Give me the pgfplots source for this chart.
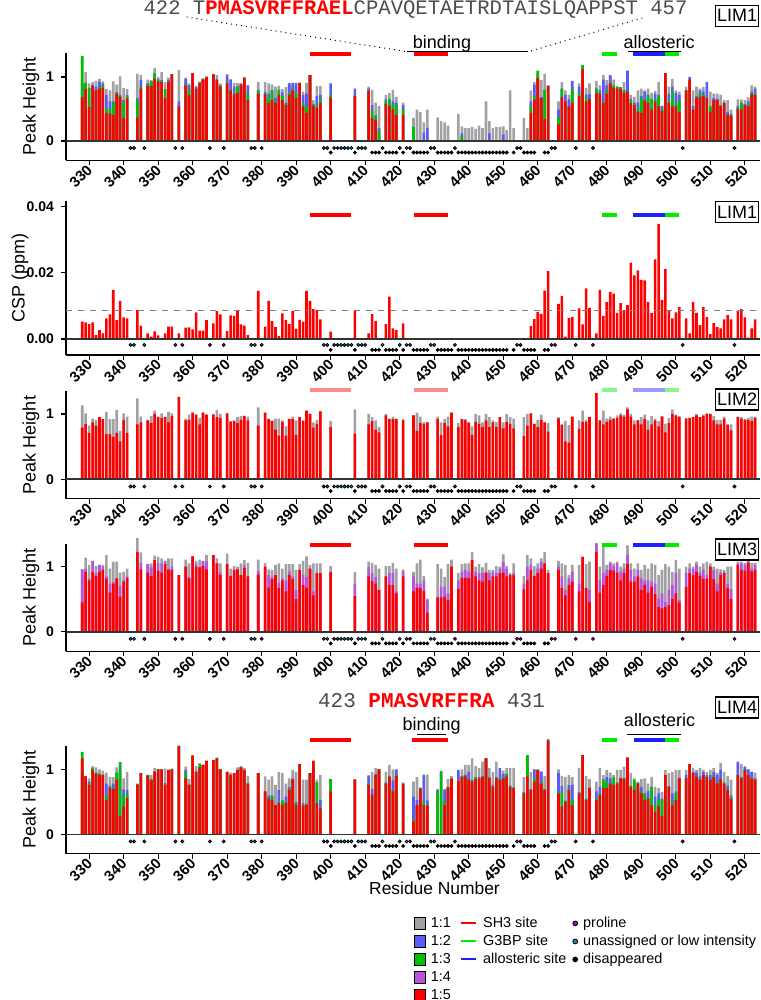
\documentclass[border=0pt]{standalone}
\usepackage{fontspec}
\setmainfont{Liberation Sans}
\setmonofont{Liberation Mono}
\usepackage{pgfplots}
\usepackage{pgfplotstable}
\pgfplotsset{compat=1.18}
\definecolor{cGray}{RGB}{160,160,165}
\definecolor{cBlue}{RGB}{90,90,250}
\definecolor{cGreen}{RGB}{0,190,0}
\definecolor{cPurple}{RGB}{180,85,220}
\definecolor{cRed}{RGB}{255,0,0}
\definecolor{cLGreen}{RGB}{0,235,0}
\definecolor{cLBlue}{RGB}{30,30,255}
\definecolor{cPro}{RGB}{140,20,190}
\definecolor{cTeal}{RGB}{0,150,175}

% LIM1: a=1:1 b=1:2 c=1:3 e=1:5
\pgfplotstableread{
r a b c e
328 0.90 0.90 1.33 0.68
329 1.08 0.91 0.91 0.81
330 0.90 0.83 0.83 0.53
331 0.92 0.88 0.86 0.86
332 0.94 0.85 0.80 0.79
333 0.97 0.92 0.85 0.82
334 0.93 0.90 0.86 0.83
335 0.81 0.72 0.50 0.44
336 0.79 0.62 0.50 0.43
337 0.93 0.62 0.60 0.41
338 0.88 0.76 0.76 0.74
339 1.01 0.72 0.70 0.69
340 0.83 0.64 0.62 0.36
341 0.81 0.72 0.70 0.67
344 1.05 0.67 0.64 0.37
345 1.03 0.95 0.85 0.82
347 0.96 0.90 0.88 0.86
348 0.95 0.93 0.93 0.86
349 1.14 1.06 1.06 0.97
350 1.00 0.97 0.95 0.93
351 1.08 0.95 0.94 0.92
352 0.92 0.81 0.81 0.67
353 0.99 0.95 0.93 0.92
354 1.04 1.04 1.04 1.04
356 1.11 0.62 0.55 0.54
358 0.99 0.97 0.90 0.87
359 0.90 0.87 0.80 0.72
360 1.06 1.06 1.06 1.06
361 0.86 0.84 0.82 0.82
362 0.93 0.91 0.91 0.91
363 0.98 0.97 0.97 0.96
364 1.00 1.00 1.00 1.00
366 1.05 1.04 1.04 1.04
367 1.03 0.97 0.96 0.95
368 0.90 0.87 0.86 0.85
370 1.00 1.04 0.92 0.90
371 0.97 0.95 0.80 0.79
372 0.91 0.85 0.75 0.73
373 0.91 0.85 0.85 0.75
374 0.91 0.89 0.88 0.88
375 0.99 0.99 0.99 0.99
376 0.87 0.87 0.74 0.64
379 0.92 0.80 0.78 0.74
381 0.92 0.77 0.75 0.73
382 0.90 0.74 0.67 0.59
383 0.88 0.79 0.79 0.64
384 0.85 0.67 0.62 0.59
385 0.86 0.80 0.80 0.72
386 0.81 0.76 0.70 0.64
387 0.84 0.60 0.58 0.56
388 0.91 0.90 0.75 0.72
389 0.87 0.91 0.82 0.79
390 0.85 0.91 0.74 0.67
391 0.91 0.91 0.91 0.91
392 0.77 0.72 0.60 0.54
393 0.91 0.74 0.54 0.44
394 1.03 1.03 1.03 1.03
395 0.64 0.58 0.56 0.55
396 0.86 0.70 0.56 0.52
397 0.86 0.72 0.65 0.59
400 0.70 0.90 0.72 0.68
407 0.70 0.82 0.71 0.70
411 0.85 0.82 0.79 0.78
412 0.80 0.56 0.48 0.36
413 0.60 0.40 0.40 0.33
414 0.55 0.20 0.16 0.00
416 0.72 0.65 0.62 0.58
417 0.75 0.64 0.66 0.55
418 0.80 0.62 0.56 0.50
419 0.69 0.60 0.58 0.41
421 0.60 0.56 0.50 0.41
424 0.36 0.00 0.22 0.00
425 0.49 0.00 0.00 0.00
426 0.45 0.00 0.00 0.00
427 0.29 0.13 0.00 0.00
428 0.49 0.20 0.00 0.00
431 0.37 0.00 0.00 0.00
432 0.31 0.00 0.00 0.00
433 0.29 0.00 0.00 0.00
434 0.24 0.00 0.00 0.00
437 0.42 0.00 0.00 0.00
438 0.23 0.12 0.08 0.00
439 0.20 0.00 0.00 0.00
440 0.20 0.00 0.00 0.00
441 0.22 0.00 0.00 0.00
442 0.19 0.00 0.00 0.00
443 0.24 0.00 0.00 0.00
444 0.20 0.00 0.00 0.00
445 0.62 0.00 0.00 0.00
446 0.31 0.12 0.00 0.00
447 0.20 0.00 0.00 0.00
448 0.22 0.00 0.00 0.00
449 0.22 0.00 0.00 0.00
450 0.23 0.10 0.00 0.00
451 0.17 0.00 0.00 0.00
452 0.79 0.00 0.00 0.00
453 0.20 0.00 0.00 0.00
456 0.36 0.00 0.00 0.00
457 0.20 0.00 0.00 0.00
458 0.79 0.62 0.55 0.44
459 0.92 0.88 0.70 0.65
460 1.05 1.00 1.10 0.98
461 0.95 0.69 0.67 0.67
462 1.05 0.80 0.80 0.34
463 0.87 0.86 0.86 0.86
466 0.62 0.49 0.37 0.26
467 0.92 0.82 0.82 0.69
468 0.79 0.72 0.62 0.62
469 0.72 0.65 0.54 0.54
470 0.85 0.94 0.80 0.59
472 0.90 0.85 0.75 0.70
473 1.18 1.18 1.18 1.12
474 0.83 0.73 0.69 0.62
475 0.90 0.73 0.65 0.65
477 0.94 0.82 0.82 0.75
478 0.87 0.80 0.76 0.74
479 1.03 0.96 0.62 0.59
480 0.95 0.87 0.79 0.74
481 0.98 1.03 0.92 0.90
482 0.96 0.87 0.87 0.83
483 0.85 0.85 0.85 0.82
484 0.84 0.84 0.84 0.82
485 0.92 0.80 0.78 0.75
486 1.05 1.10 0.78 0.77
487 0.72 0.66 0.64 0.59
488 0.69 0.60 0.58 0.56
489 0.79 0.60 0.50 0.46
490 0.82 0.70 0.67 0.44
491 0.79 0.77 0.65 0.63
492 0.82 0.72 0.72 0.59
493 0.75 0.66 0.66 0.49
494 0.78 0.74 0.65 0.62
495 0.92 0.72 0.70 0.54
496 0.55 0.55 0.50 0.47
497 1.06 1.06 1.06 1.06
498 0.85 0.74 0.62 0.59
499 0.97 0.85 0.77 0.54
500 0.79 0.75 0.59 0.54
501 0.77 0.72 0.64 0.45
503 0.85 0.79 0.79 0.79
504 0.96 1.00 0.96 0.96
505 0.79 0.55 0.50 0.49
506 0.85 0.70 0.68 0.67
507 0.82 0.79 0.74 0.69
508 0.84 0.77 0.72 0.70
509 0.85 0.92 0.68 0.67
510 0.77 0.54 0.54 0.46
511 0.74 0.67 0.64 0.64
512 0.74 0.66 0.64 0.64
513 0.72 0.56 0.55 0.54
514 0.64 0.60 0.60 0.59
515 0.64 0.45 0.42 0.41
516 0.49 0.42 0.40 0.39
518 0.65 0.55 0.52 0.50
519 0.65 0.60 0.59 0.49
520 0.64 0.58 0.57 0.56
521 0.68 0.62 0.56 0.54
522 0.87 0.77 0.74 0.73
523 0.85 0.82 0.74 0.72
}\limA

% CSP of LIM1 (ppm)
\pgfplotstableread{
r v
328 0.0052
329 0.0050
330 0.0045
331 0.0050
332 0.0012
333 0.0027
334 0.0017
335 0.0062
336 0.0074
337 0.0148
338 0.0057
339 0.0115
340 0.0065
341 0.0062
344 0.0087
345 0.0040
347 0.0017
348 0.0007
349 0.0023
350 0.0011
351 0.0003
352 0.0017
353 0.0037
354 0.0037
356 0.0017
358 0.0034
359 0.0035
360 0.0029
361 0.0080
362 0.0025
363 0.0025
364 0.0057
366 0.0047
367 0.0084
368 0.0074
370 0.0024
371 0.0071
372 0.0070
373 0.0087
374 0.0044
375 0.0040
376 0.0012
379 0.0145
381 0.0037
382 0.0115
383 0.0054
384 0.0036
385 0.0009
386 0.0077
387 0.0057
388 0.0045
389 0.0084
390 0.0031
391 0.0058
392 0.0052
393 0.0145
394 0.0115
395 0.0090
396 0.0087
397 0.0059
400 0.0022
407 0.0084
411 0.0017
412 0.0075
413 0.0054
416 0.0045
417 0.0128
418 0.0032
419 0.0027
421 0.0047
458 0.0039
459 0.0060
460 0.0082
461 0.0076
462 0.0146
463 0.0205
466 0.0106
467 0.0130
468 0.0007
469 0.0064
470 0.0067
472 0.0092
473 0.0044
474 0.0153
475 0.0094
477 0.0017
478 0.0148
479 0.0070
480 0.0112
481 0.0142
482 0.0137
483 0.0079
484 0.0108
485 0.0087
486 0.0102
487 0.0230
488 0.0192
489 0.0207
490 0.0178
491 0.0177
492 0.0112
493 0.0079
494 0.0240
495 0.0347
496 0.0118
497 0.0211
498 0.0087
499 0.0062
500 0.0080
501 0.0096
503 0.0062
504 0.0017
505 0.0112
506 0.0079
507 0.0042
508 0.0096
509 0.0066
510 0.0015
511 0.0048
512 0.0036
513 0.0032
514 0.0059
515 0.0073
516 0.0059
518 0.0084
519 0.0090
520 0.0065
521 0.0004
522 0.0032
523 0.0059
}\csp

% LIM2: a=1:1 e=1:5
\pgfplotstableread{
r a e
328 1.13 0.79
329 1.01 0.85
330 0.82 0.71
331 0.93 0.87
332 0.91 0.82
333 0.95 0.95
334 0.92 0.92
335 1.03 0.69
336 0.92 0.69
337 0.92 0.65
338 1.06 0.71
339 0.74 0.58
340 1.01 0.91
341 0.96 0.71
344 1.24 0.84
345 0.96 0.87
347 0.91 0.90
348 0.97 0.86
349 1.05 1.00
350 0.96 0.95
351 1.01 0.94
352 0.96 0.95
353 1.03 0.87
354 1.01 0.97
356 1.26 1.26
358 0.93 0.90
359 0.99 0.91
360 1.02 1.02
361 0.99 0.99
362 0.94 0.84
363 1.02 1.02
364 0.99 0.99
366 1.00 0.99
367 1.06 0.95
368 1.00 0.94
370 1.01 1.01
371 0.89 0.88
372 0.90 0.89
373 0.95 0.86
374 0.97 0.91
375 0.97 0.97
376 0.96 0.90
379 1.10 0.82
381 1.02 1.02
382 0.93 0.92
383 0.90 0.89
384 0.93 0.76
385 0.93 0.67
386 0.90 0.88
387 0.81 0.67
388 0.93 0.92
389 0.96 0.92
390 0.90 0.68
391 0.95 0.95
392 0.90 0.89
393 1.05 1.05
394 1.00 1.00
395 0.87 0.79
396 0.91 0.85
397 1.04 1.04
400 0.89 0.80
407 1.07 0.70
411 1.00 0.84
412 0.95 0.89
413 0.90 0.76
414 0.80 0.72
416 1.00 0.98
417 0.93 0.92
418 0.96 0.92
419 0.93 0.92
421 0.92 0.90
424 0.98 0.98
425 1.02 0.74
426 0.96 0.86
427 0.88 0.85
428 0.87 0.87
431 0.96 0.92
432 0.87 0.68
433 0.92 0.86
434 0.96 0.81
435 1.02 1.02
437 0.86 0.80
438 0.92 0.92
439 0.92 0.90
440 0.88 0.86
441 0.81 0.68
442 1.00 0.88
443 0.98 0.85
444 0.87 0.80
445 1.00 0.90
446 0.95 0.80
447 0.90 0.87
448 0.88 0.80
449 0.95 0.95
450 0.87 0.78
451 1.00 0.88
452 0.95 0.85
453 0.93 0.78
456 0.95 0.66
457 1.00 0.82
458 1.01 1.01
459 0.85 0.85
460 0.91 0.80
461 0.99 0.91
462 0.87 0.87
463 0.86 0.73
466 0.95 0.93
467 0.85 0.83
468 0.89 0.58
469 0.83 0.56
470 0.96 0.96
472 0.90 0.77
473 1.05 0.88
474 0.91 0.88
475 0.95 0.95
477 1.32 1.32
478 0.90 0.90
479 1.05 0.84
480 0.93 0.88
481 0.96 0.91
482 0.94 0.92
483 0.98 0.94
484 1.01 0.98
485 0.99 0.96
486 1.10 1.07
487 1.00 0.96
488 0.90 0.84
489 0.91 0.90
490 0.95 0.84
491 0.99 0.92
492 0.90 0.76
493 0.97 0.84
494 0.93 0.90
495 0.89 0.81
496 0.97 0.96
497 0.85 0.72
498 0.94 0.86
499 1.07 1.00
500 0.99 0.98
501 0.97 0.95
503 0.94 0.93
504 0.94 0.94
505 0.95 0.95
506 1.00 0.98
507 0.95 0.95
508 0.99 0.97
509 1.01 1.00
510 1.00 1.00
511 0.97 0.90
512 0.91 0.84
513 0.91 0.84
514 0.96 0.93
515 0.85 0.83
516 0.84 0.75
518 0.96 0.95
519 0.95 0.93
520 0.92 0.91
521 0.94 0.91
522 0.96 0.89
523 0.96 0.94
}\limB

% LIM3: a=1:1 d=1:4 e=1:5
\pgfplotstableread{
r a d e
328 0.96 0.96 0.45
329 1.14 0.97 0.92
330 1.03 0.82 0.79
331 1.09 1.09 0.92
332 1.01 0.90 0.86
333 1.03 1.03 0.92
334 1.03 1.00 0.95
335 1.18 0.85 0.82
336 0.97 0.74 0.60
337 1.08 0.76 0.74
338 1.08 0.82 0.82
339 0.91 0.70 0.54
340 0.92 0.79 0.77
341 0.97 0.85 0.83
344 1.44 1.23 1.23
345 1.22 1.06 0.96
347 1.04 1.04 0.91
348 1.05 0.99 0.86
349 1.17 1.10 1.10
350 1.15 1.05 0.94
351 1.13 1.05 0.91
352 1.09 1.09 1.04
353 1.13 0.97 0.95
354 1.13 1.00 0.95
356 0.87 0.87 0.87
358 1.11 1.00 1.00
359 1.05 0.84 0.82
360 1.16 1.16 1.16
361 1.09 1.05 1.00
362 1.11 1.00 0.99
363 1.09 1.09 1.01
364 1.18 1.08 0.96
366 1.18 1.18 1.18
367 1.13 1.05 1.05
368 1.05 0.91 0.87
370 1.20 1.04 1.04
371 0.97 0.86 0.86
372 1.01 0.95 0.95
373 1.00 0.96 0.96
374 1.05 0.87 0.87
375 1.10 1.02 0.98
376 1.06 0.85 0.85
379 1.11 0.93 0.88
381 1.06 1.00 1.00
382 0.96 0.87 0.68
383 0.95 0.84 0.81
384 1.03 0.87 0.87
385 1.05 0.75 0.67
386 0.97 0.82 0.79
387 1.04 0.79 0.62
388 1.04 0.93 0.87
389 1.04 0.85 0.81
390 0.95 0.64 0.50
391 1.04 0.95 0.95
392 1.09 0.88 0.72
393 1.16 0.84 0.68
394 1.03 0.97 0.97
395 1.05 0.62 0.56
396 1.05 0.90 0.90
397 1.05 0.90 0.90
400 1.01 0.92 0.92
407 0.92 0.74 0.55
411 1.08 0.99 0.85
412 1.06 0.90 0.78
413 1.03 0.84 0.74
414 0.97 0.64 0.64
416 1.01 0.85 0.85
417 1.01 0.90 0.72
418 1.06 0.90 0.72
419 0.97 0.62 0.59
421 0.96 0.93 0.85
424 0.92 0.85 0.62
425 1.05 0.74 0.68
426 1.11 0.74 0.67
427 0.86 0.79 0.63
428 0.51 0.49 0.29
431 1.04 0.53 0.53
432 0.97 0.69 0.53
433 0.84 0.69 0.54
434 1.04 0.59 0.49
435 1.11 1.00 1.00
437 0.90 0.79 0.66
438 1.04 0.92 0.83
439 1.05 0.95 0.83
440 1.05 0.92 0.83
441 1.23 1.10 1.10
442 1.00 0.92 0.85
443 1.04 0.90 0.79
444 0.99 0.90 0.77
445 1.06 0.92 0.91
446 0.95 0.90 0.79
447 0.95 0.92 0.85
448 1.01 0.90 0.85
449 1.00 0.97 0.90
450 1.19 1.08 0.91
451 1.01 0.97 0.85
452 0.90 0.88 0.87
453 1.05 0.90 0.87
456 0.86 0.74 0.65
457 1.18 1.00 0.79
458 1.13 1.03 0.95
459 1.01 0.86 0.86
460 1.05 0.97 0.90
461 1.13 1.08 0.97
462 1.23 1.05 1.05
463 0.95 0.90 0.90
466 1.09 1.00 0.95
467 1.05 0.85 0.67
468 1.03 0.64 0.56
469 0.87 0.82 0.72
470 1.03 0.92 0.77
472 1.03 0.74 0.62
473 1.15 1.15 1.15
474 1.04 0.67 0.67
475 1.08 0.64 0.46
477 1.36 1.36 1.23
478 1.00 0.79 0.60
479 1.35 0.90 0.72
480 1.03 0.95 0.86
481 1.08 1.05 0.95
482 1.05 1.01 0.94
483 1.08 1.05 0.91
484 1.00 0.92 0.79
485 1.05 0.97 0.90
486 1.33 1.18 1.04
487 1.05 0.95 0.77
488 0.97 0.85 0.77
489 1.05 0.95 0.85
490 0.95 0.82 0.64
491 1.03 0.79 0.72
492 0.97 0.79 0.60
493 1.05 0.77 0.69
494 1.03 0.74 0.58
495 0.87 0.51 0.38
496 0.95 0.59 0.36
497 1.04 0.46 0.38
498 1.00 0.64 0.41
499 0.92 0.72 0.50
500 1.10 0.90 0.59
501 0.97 0.49 0.45
503 1.00 0.90 0.69
504 1.05 0.97 0.90
505 1.00 0.97 0.87
506 1.08 1.03 0.92
507 1.00 0.91 0.86
508 1.05 0.95 0.81
509 1.08 0.87 0.82
510 1.05 1.00 1.00
511 1.00 0.95 0.81
512 0.97 0.74 0.62
513 0.96 0.91 0.87
514 0.95 0.92 0.90
515 1.00 0.74 0.67
516 1.00 0.65 0.50
518 1.08 1.05 1.03
519 1.08 1.05 0.95
520 1.06 1.03 0.94
521 1.11 1.11 1.06
522 1.06 0.97 0.93
523 1.06 1.03 0.95
}\limC

% LIM4: a=1:1 b=1:2 c=1:3 e=1:5
\pgfplotstableread{
r a b c e
328 1.00 1.00 1.27 1.17
329 0.89 0.89 0.89 0.89
330 0.86 0.81 0.78 0.76
331 1.05 1.02 1.02 0.99
332 1.03 0.95 0.95 0.93
333 1.00 0.93 0.93 0.92
334 0.98 0.92 0.92 0.91
335 0.95 0.78 0.60 0.53
336 0.88 0.75 0.73 0.71
337 0.88 0.78 0.72 0.70
338 1.03 0.95 0.95 0.84
339 1.00 1.11 1.11 0.28
340 0.86 0.69 0.60 0.43
341 0.96 0.68 0.63 0.56
344 0.77 0.77 0.78 0.76
345 0.94 0.94 0.94 0.94
347 0.92 0.91 0.91 0.90
348 0.91 0.85 0.84 0.83
349 1.02 0.97 0.97 0.96
350 1.00 1.00 1.00 1.00
351 1.00 1.00 1.00 1.00
352 1.01 0.79 0.77 0.76
353 0.99 0.99 0.99 0.99
354 1.00 1.01 1.00 1.00
356 1.36 1.36 1.36 1.36
358 1.04 0.99 0.94 0.86
359 0.85 0.77 0.76 0.76
360 1.21 1.21 1.21 1.21
361 1.05 0.97 0.96 0.96
362 1.03 1.03 1.09 1.03
363 1.07 1.07 1.07 1.07
364 1.13 1.13 1.13 1.13
366 1.14 1.14 1.14 1.14
367 1.17 1.17 1.18 1.17
368 1.00 1.00 1.00 1.00
370 0.96 0.96 0.96 0.96
371 0.95 0.92 0.91 0.91
372 0.94 0.94 0.94 0.94
373 1.03 0.99 0.99 0.99
374 1.05 1.03 1.03 1.03
375 1.02 0.99 0.99 0.99
376 0.90 0.79 0.79 0.77
379 0.94 0.94 0.94 0.94
381 0.89 0.66 0.66 0.66
382 0.84 0.60 0.56 0.55
383 0.89 0.60 0.58 0.53
384 0.76 0.45 0.45 0.45
385 0.96 0.68 0.50 0.48
386 0.94 0.52 0.52 0.45
387 0.78 0.58 0.50 0.48
388 0.86 0.73 0.70 0.68
389 0.99 0.86 0.84 0.84
390 0.96 0.50 0.48 0.45
391 1.08 1.08 1.08 1.08
392 0.84 0.48 0.45 0.44
393 0.84 0.47 0.46 0.45
394 0.94 0.94 0.94 0.94
395 1.13 1.13 1.13 1.13
396 0.84 0.80 0.80 0.48
397 0.91 0.53 0.42 0.40
400 0.85 0.85 0.85 0.66
407 0.85 0.84 0.84 0.84
411 0.91 0.89 0.78 0.76
412 0.96 0.70 0.62 0.61
413 1.02 0.93 0.92 0.91
414 1.00 1.00 1.00 1.00
416 0.96 0.80 0.79 0.78
417 1.07 0.90 0.89 0.88
418 1.00 0.83 0.68 0.66
419 0.99 1.00 0.91 0.90
421 0.80 0.78 0.78 0.77
424 0.81 0.58 0.22 0.20
425 0.88 0.53 0.45 0.45
426 0.72 0.72 0.71 0.70
427 0.90 0.92 0.50 0.45
428 0.92 0.52 0.45 0.44
431 0.70 0.68 0.66 0.00
432 0.98 0.97 0.96 0.00
433 0.70 0.68 0.50 0.45
434 0.85 0.73 0.73 0.72
435 0.90 0.86 0.86 0.85
437 0.95 0.99 0.83 0.82
438 1.00 0.90 0.89 0.88
439 1.07 0.92 0.90 0.89
440 1.07 0.96 0.85 0.84
441 1.17 0.84 0.82 0.81
442 1.05 0.88 0.88 0.85
443 1.02 0.88 0.87 0.86
444 1.12 0.90 0.89 0.88
445 1.17 1.17 1.17 1.17
446 1.02 0.88 0.87 0.86
447 0.96 0.76 0.74 0.73
448 1.12 0.88 0.87 0.86
449 0.98 1.02 0.85 0.84
450 0.98 0.93 0.87 0.86
451 1.02 0.93 0.93 0.89
452 1.02 0.75 0.74 0.73
453 1.02 0.72 0.72 0.71
456 0.88 0.65 0.64 0.63
457 1.20 1.22 1.22 0.89
458 0.96 0.70 0.69 0.68
459 1.00 1.00 0.85 0.81
460 1.00 0.99 0.99 0.99
461 0.97 0.96 0.80 0.78
462 0.90 0.70 0.69 0.68
463 1.46 1.46 1.44 1.44
466 1.00 0.94 0.65 0.63
467 0.90 0.74 0.64 0.43
468 0.88 0.52 0.51 0.50
469 0.91 0.76 0.70 0.68
470 0.88 0.76 0.53 0.45
472 1.02 0.65 0.64 0.63
473 1.22 1.22 1.22 1.22
474 0.90 0.55 0.54 0.53
475 0.85 0.72 0.72 0.71
477 0.81 0.66 0.55 0.53
478 1.02 0.73 0.63 0.61
479 0.91 0.80 0.85 0.71
480 0.99 0.88 0.81 0.71
481 0.95 0.86 0.79 0.78
482 0.91 0.80 0.88 0.76
483 0.99 0.80 0.79 0.78
484 0.99 0.87 0.86 0.86
485 1.04 0.87 0.86 0.85
486 1.18 1.18 1.18 1.18
487 0.94 0.75 0.74 0.73
488 0.86 0.73 0.84 0.68
489 0.81 0.79 0.79 0.78
490 0.85 0.73 0.66 0.63
491 0.86 0.63 0.63 0.53
492 0.78 0.67 0.56 0.55
493 0.88 0.73 0.73 0.45
494 0.73 0.58 0.45 0.35
495 0.71 0.63 0.55 0.43
496 0.65 0.55 0.53 0.28
497 0.99 0.91 0.91 0.91
498 0.94 0.74 0.73 0.73
499 0.96 0.63 0.50 0.45
500 0.99 0.66 0.63 0.53
501 0.99 0.87 0.86 0.86
503 0.99 0.91 0.87 0.86
504 1.08 1.08 1.08 1.08
505 1.02 0.96 0.94 0.94
506 0.99 0.95 0.89 0.88
507 1.02 0.89 0.85 0.84
508 0.99 0.96 0.92 0.91
509 0.96 0.91 0.89 0.88
510 0.99 0.91 0.85 0.84
511 1.02 0.96 0.90 0.88
512 0.94 0.91 0.79 0.78
513 1.10 0.99 0.87 0.85
514 0.96 0.80 0.79 0.78
515 0.90 0.75 0.70 0.68
516 0.84 0.60 0.56 0.55
518 1.10 1.12 0.92 0.91
519 1.08 0.88 0.87 0.86
520 1.04 1.04 1.00 0.99
521 1.00 1.00 0.92 0.91
522 0.96 0.96 0.87 0.86
523 0.95 0.86 0.85 0.84
}\limD

% residue markers below the axis: p = y in peak panels, c = y in CSP panel
\pgfplotstableread{
r p c
355 -0.11 -0.0018
357 -0.11 -0.0018
365 -0.11 -0.0018
369 -0.11 -0.0018
380 -0.11 -0.0018
398 -0.11 -0.0018
401 -0.11 -0.0018
402 -0.11 -0.0018
423 -0.11 -0.0018
436 -0.11 -0.0018
454 -0.11 -0.0018
455 -0.11 -0.0018
464 -0.11 -0.0018
465 -0.11 -0.0018
471 -0.11 -0.0018
476 -0.11 -0.0018
502 -0.11 -0.0018
517 -0.11 -0.0018
}\dotP
\pgfplotstableread{
r p c
342 -0.11 -0.0018
343 -0.11 -0.0018
346 -0.11 -0.0018
377 -0.11 -0.0018
378 -0.11 -0.0018
399 -0.11 -0.0018
403 -0.11 -0.0018
404 -0.11 -0.0018
405 -0.11 -0.0018
406 -0.11 -0.0018
408 -0.11 -0.0018
409 -0.11 -0.0018
410 -0.11 -0.0018
415 -0.11 -0.0018
420 -0.11 -0.0018
422 -0.11 -0.0018
429 -0.11 -0.0018
430 -0.11 -0.0018
}\dotT
\pgfplotstableread{
r p c
400 -0.18 -0.0033
407 -0.18 -0.0033
412 -0.18 -0.0033
413 -0.18 -0.0033
414 -0.18 -0.0033
416 -0.18 -0.0033
417 -0.18 -0.0033
418 -0.18 -0.0033
419 -0.18 -0.0033
421 -0.18 -0.0033
424 -0.18 -0.0033
425 -0.18 -0.0033
426 -0.18 -0.0033
427 -0.18 -0.0033
428 -0.18 -0.0033
431 -0.18 -0.0033
432 -0.18 -0.0033
433 -0.18 -0.0033
434 -0.18 -0.0033
435 -0.18 -0.0033
437 -0.18 -0.0033
438 -0.18 -0.0033
439 -0.18 -0.0033
440 -0.18 -0.0033
441 -0.18 -0.0033
442 -0.18 -0.0033
443 -0.18 -0.0033
444 -0.18 -0.0033
445 -0.18 -0.0033
446 -0.18 -0.0033
447 -0.18 -0.0033
448 -0.18 -0.0033
449 -0.18 -0.0033
450 -0.18 -0.0033
451 -0.18 -0.0033
453 -0.18 -0.0033
456 -0.18 -0.0033
457 -0.18 -0.0033
458 -0.18 -0.0033
459 -0.18 -0.0033
462 -0.18 -0.0033
463 -0.18 -0.0033
}\dotK

\pgfplotsset{
  panel/.style={
    scale only axis, width=347pt, anchor=south west,
    xmin=323.3, xmax=524.4,
    axis x line*=bottom, axis y line*=left,
    axis line style={line width=0.6pt},
    every tick/.style={black, line width=0.6pt},
    tick align=outside, major tick length=2.5pt,
    xtick={330,340,...,520},
    xticklabel style={rotate=45, anchor=east, inner sep=0.5pt, yshift=-1pt,
      font=\bfseries\fontsize{7.4}{8}\selectfont,
      /pgf/number format/assume math mode=true},
    yticklabel style={font=\bfseries\fontsize{7}{8}\selectfont,
      /pgf/number format/assume math mode=true},
    ylabel style={font=\fontsize{9}{10}\selectfont, at={(axis description cs:-0.0504,0.5)}, anchor=center},
    clip=false,
  },
  mybar/.style={ybar, bar width=0.75, bar shift=0pt, draw=none, fill=#1},
  zeroline/.style={black!80, line width=0.8pt},
  dotstyle/.style={only marks, mark=*, mark size=0.75pt, mark options={draw=none, fill=#1}},
  site/.style={line width=2pt, #1},
  sqleg/.style={legend image code/.code={\fill[##1] (0pt,-2.8pt) rectangle (5.6pt,2.8pt); \path (8pt,0pt);}},
  lnleg/.style={legend image code/.code={\draw[##1, line width=1pt] (0pt,0pt) -- (7.5pt,0pt); \path (11pt,0pt);}},
  dtleg/.style={legend image code/.code={\fill[##1] (1.2pt,0pt) circle (1.2pt); \path (5pt,0pt);}},
}
\tikzset{limbox/.style={draw, line width=0.6pt, font=\fontsize{9}{10}\selectfont, minimum width=21.5pt, minimum height=10.5pt, inner sep=0pt}}

\begin{document}
\begin{tikzpicture}
\useasboundingbox (0,0) rectangle (380pt,500pt);

% ---------------- Panel 1: LIM1 peak heights
\begin{axis}[panel, at={(33pt,419.9pt)}, height=53.75pt,
  ymin=-0.3, ymax=1.38, ytick={0,1}, ylabel={Peak Height}]
\addplot[mybar=cGray] table[x=r,y=a]{\limA};
\addplot[mybar=cBlue] table[x=r,y=b]{\limA};
\addplot[mybar=cGreen] table[x=r,y=c]{\limA};
\addplot[mybar=cRed] table[x=r,y=e]{\limA};
\addplot[zeroline] coordinates {(323.3,0) (524.4,0)};
\addplot[dotstyle=cPro] table[x=r,y=p]{\dotP};
\addplot[dotstyle=cTeal] table[x=r,y=p]{\dotT};
\addplot[dotstyle=black] table[x=r,y=p]{\dotK};
\addplot[site=cRed] coordinates {(394,1.36) (406,1.36)};
\addplot[site=cRed] coordinates {(424,1.36) (434,1.36)};
\addplot[site=cLGreen] coordinates {(478.5,1.36) (483,1.36)};
\addplot[site=cLBlue] coordinates {(487.7,1.36) (497,1.36)};
\addplot[site=cLGreen] coordinates {(497,1.36) (501,1.36)};
\end{axis}

% ---------------- Panel 2: CSP
\begin{axis}[panel, at={(33pt,322.5pt)}, height=77pt,
  ymin=-0.00483, ymax=0.04163, ytick={0,0.02,0.04}, scaled y ticks=false,
  yticklabel style={/pgf/number format/.cd, fixed, fixed zerofill, precision=2},
  ylabel={CSP (ppm)}, ylabel style={at={(axis description cs:-0.0663,0.5)}}]
\addplot[mybar=cRed] table[x=r,y=v]{\csp};
\addplot[gray, dashed, line width=0.6pt] coordinates {(323.3,0.0085) (524.4,0.0085)};
\addplot[zeroline] coordinates {(323.3,0) (524.4,0)};
\addplot[dotstyle=cPro] table[x=r,y=c]{\dotP};
\addplot[dotstyle=cTeal] table[x=r,y=c]{\dotT};
\addplot[dotstyle=black] table[x=r,y=c]{\dotK};
\addplot[site=cRed] coordinates {(394,0.0375) (406,0.0375)};
\addplot[site=cRed] coordinates {(424,0.0375) (434,0.0375)};
\addplot[site=cLGreen] coordinates {(478.5,0.0375) (483,0.0375)};
\addplot[site=cLBlue] coordinates {(487.7,0.0375) (497,0.0375)};
\addplot[site=cLGreen] coordinates {(497,0.0375) (501,0.0375)};
\end{axis}

% ---------------- Panel 3: LIM2
\begin{axis}[panel, at={(33pt,250.55pt)}, height=53.9pt,
  ymin=-0.3, ymax=1.35, ytick={0,1}, ylabel={Peak Height}]
\addplot[mybar=cGray] table[x=r,y=a]{\limB};
\addplot[mybar=cRed] table[x=r,y=e]{\limB};
\addplot[zeroline] coordinates {(323.3,0) (524.4,0)};
\addplot[dotstyle=cPro] table[x=r,y=p]{\dotP};
\addplot[dotstyle=cTeal] table[x=r,y=p]{\dotT};
\addplot[dotstyle=black] table[x=r,y=p]{\dotK};
\addplot[site=cRed, opacity=0.45] coordinates {(394,1.37) (406,1.37)};
\addplot[site=cRed, opacity=0.45] coordinates {(424,1.37) (434,1.37)};
\addplot[site=cLGreen, opacity=0.45] coordinates {(478.5,1.37) (483,1.37)};
\addplot[site=cLBlue, opacity=0.45] coordinates {(487.7,1.37) (497,1.37)};
\addplot[site=cLGreen, opacity=0.45] coordinates {(497,1.37) (501,1.37)};
\end{axis}

% ---------------- Panel 4: LIM3
\begin{axis}[panel, at={(33pt,174.4pt)}, height=53.6pt,
  ymin=-0.3, ymax=1.35, ytick={0,1}, ylabel={Peak Height}]
\addplot[mybar=cGray] table[x=r,y=a]{\limC};
\addplot[mybar=cPurple] table[x=r,y=d]{\limC};
\addplot[mybar=cRed] table[x=r,y=e]{\limC};
\addplot[zeroline] coordinates {(323.3,0) (524.4,0)};
\addplot[dotstyle=cPro] table[x=r,y=p]{\dotP};
\addplot[dotstyle=cTeal] table[x=r,y=p]{\dotT};
\addplot[dotstyle=black] table[x=r,y=p]{\dotK};
\addplot[site=cRed] coordinates {(394,1.34) (406,1.34)};
\addplot[site=cRed] coordinates {(424,1.34) (434,1.34)};
\addplot[site=cLGreen] coordinates {(478.5,1.34) (483,1.34)};
\addplot[site=cLBlue] coordinates {(487.7,1.34) (497,1.34)};
\addplot[site=cLGreen] coordinates {(497,1.34) (501,1.34)};
\end{axis}

% ---------------- Panel 5: LIM4
\begin{axis}[panel, at={(33pt,73.1pt)}, height=53.95pt,
  ymin=-0.3, ymax=1.36, ytick={0,1}, ylabel={Peak Height},
  xlabel={Residue Number},
  xlabel style={font=\fontsize{8.7}{10}\selectfont, at={(axis description cs:0.531,-0.38)}, anchor=base},
  legend columns=3, legend cell align=left,
  legend style={at={(0.5014,-0.574)}, anchor=north west, draw=none, fill=none,
    inner sep=0pt, outer sep=0pt, column sep=0pt, row sep=1.3pt,
    font=\fontsize{7.2}{8}\selectfont,
    nodes={inner xsep=0pt, inner ysep=0.6pt, text height=5.2pt, text depth=1.3pt},
    /tikz/column 2/.style={column sep=4.5pt},
    /tikz/column 4/.style={column sep=3pt}}]
\addplot[mybar=cGray, forget plot] table[x=r,y=a]{\limD};
\addplot[mybar=cBlue, forget plot] table[x=r,y=b]{\limD};
\addplot[mybar=cGreen, forget plot] table[x=r,y=c]{\limD};
\addplot[mybar=cRed, forget plot] table[x=r,y=e]{\limD};
\addplot[zeroline, forget plot] coordinates {(323.3,0) (524.4,0)};
\addplot[dotstyle=cPro, forget plot] table[x=r,y=p]{\dotP};
\addplot[dotstyle=cTeal, forget plot] table[x=r,y=p]{\dotT};
\addplot[dotstyle=black, forget plot] table[x=r,y=p]{\dotK};
\addplot[site=cRed, forget plot] coordinates {(394,1.446) (406,1.446)};
\addplot[site=cRed, forget plot] coordinates {(423.5,1.446) (434,1.446)};
\addplot[site=cLGreen, forget plot] coordinates {(478.5,1.446) (483,1.446)};
\addplot[site=cLBlue, forget plot] coordinates {(488,1.446) (497,1.446)};
\addplot[site=cLGreen, forget plot] coordinates {(497,1.446) (501,1.446)};
% legend
\addlegendimage{sqleg, fill=cGray}\addlegendentry{1:1}
\addlegendimage{lnleg, cRed}\addlegendentry{SH3 site}
\addlegendimage{dtleg, fill=cPro}\addlegendentry{proline}
\addlegendimage{sqleg, fill=cBlue}\addlegendentry{1:2}
\addlegendimage{lnleg, cLGreen}\addlegendentry{G3BP site}
\addlegendimage{dtleg, fill=cTeal}\addlegendentry{unassigned or low intensity}
\addlegendimage{sqleg, fill=cGreen}\addlegendentry{1:3}
\addlegendimage{lnleg, cLBlue}\addlegendentry{allosteric site}
\addlegendimage{dtleg, fill=black}\addlegendentry{disappeared}
\addlegendimage{sqleg, fill=cPurple}\addlegendentry{1:4}
\addlegendimage{empty legend}\addlegendentry{}
\addlegendimage{empty legend}\addlegendentry{}
\addlegendimage{sqleg, fill=cRed}\addlegendentry{1:5}
\end{axis}

% ---------------- annotations
\node[anchor=base, font=\ttfamily\fontsize{10.3}{12}\selectfont, text=black!70, inner sep=0pt]
  at (207.75pt,492.8pt) {422 T\textcolor{cRed}{\bfseries PMASVRFFRAEL}CPAVQETAETRDTAISLQAPPST 457};
\draw[dotted, line width=0.5pt] (93.3pt,491.5pt) -- (203.6pt,474.15pt);
\draw[dotted, line width=0.5pt] (321.15pt,491pt) -- (264.2pt,474.15pt);
\draw[line width=0.5pt] (203.6pt,474.15pt) -- (264.2pt,474.15pt);
\node[anchor=base, font=\fontsize{9}{10}\selectfont, inner sep=0pt] at (221pt,475.75pt) {binding};
\node[anchor=base, font=\fontsize{9}{10}\selectfont, inner sep=0pt] at (329.6pt,475.75pt) {allosteric};
\draw[line width=0.5pt] (314pt,474.15pt) -- (340.5pt,474.15pt);

\node[limbox] at (368.5pt,492.1pt) {LIM1};
\node[limbox] at (368.5pt,393.9pt) {LIM1};
\node[limbox] at (368.5pt,300.25pt) {LIM2};
\node[limbox] at (368.5pt,225.25pt) {LIM3};
\node[limbox] at (368.5pt,146.25pt) {LIM4};

% LIM4 annotations
\node[anchor=base, font=\ttfamily\fontsize{10.5}{12}\selectfont, text=black!70, inner sep=0pt]
  at (215.75pt,146pt) {423 \textcolor{cRed}{\bfseries PMASVRFFRA} 431};
\node[anchor=base, font=\fontsize{9}{10}\selectfont, inner sep=0pt] at (215.85pt,134.5pt) {binding};
\draw[line width=0.5pt] (208.5pt,132.5pt) -- (223pt,132.5pt);
\node[anchor=base, font=\fontsize{9}{10}\selectfont, inner sep=0pt] at (329.75pt,136.5pt) {allosteric};
\draw[line width=0.5pt] (313.5pt,132.5pt) -- (340.25pt,132.5pt);
\end{tikzpicture}
\end{document}
